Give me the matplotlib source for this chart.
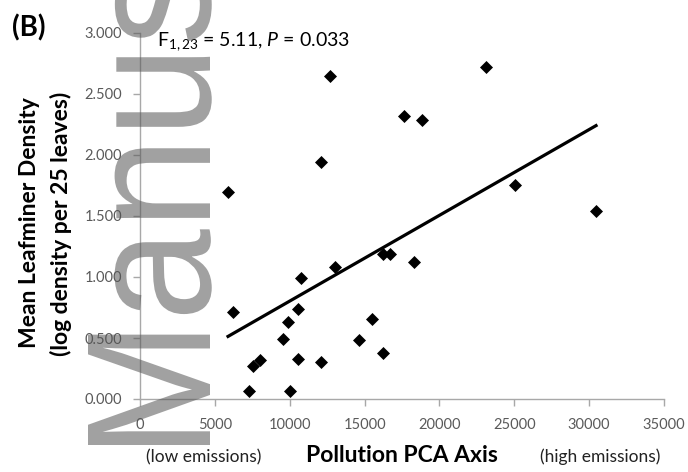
import matplotlib
matplotlib.use("Agg")
import matplotlib.pyplot as plt
import numpy as np
from matplotlib.textpath import TextPath
from matplotlib.patches import PathPatch
from matplotlib.font_manager import FontProperties
from matplotlib.transforms import Affine2D, IdentityTransform

# ---- data ----
pollution_pca = [5880, 12690, 12090, 23110, 17640, 18840, 25050, 30460,
                 6210, 13030, 10750, 10540, 9870, 9530, 7560, 8020,
                 10540, 12070, 7290, 10020, 16250, 16700, 18300, 15500,
                 14630, 16230]
leafminer_density = [1.70, 2.65, 1.94, 2.72, 2.32, 2.29, 1.75, 1.54,
                     0.713, 1.08, 0.99, 0.74, 0.63, 0.49, 0.27, 0.32,
                     0.33, 0.30, 0.066, 0.066, 1.19, 1.19, 1.12, 0.655,
                     0.48, 0.377]
trend_slope = 7.03e-5
trend_intercept = 0.0996
x_ticks = [0, 5000, 10000, 15000, 20000, 25000, 30000, 35000]
y_ticks = [0.0, 0.5, 1.0, 1.5, 2.0, 2.5, 3.0]

plt.rcParams['font.family'] = ['Lato', 'DejaVu Sans']
plt.rcParams['mathtext.fontset'] = 'custom'
plt.rcParams['mathtext.rm'] = 'Lato'
plt.rcParams['mathtext.it'] = 'Lato:italic'

W, H = 688, 472
fig = plt.figure(figsize=(W / 100, H / 100), dpi=100)
ax = fig.add_axes([140 / W, 1 - 399 / H, 524 / W, 366 / H])

ax.scatter(pollution_pca, leafminer_density, marker='D', s=44,
           color='black', zorder=3, linewidths=0)
tx = np.array([min(pollution_pca), max(pollution_pca)])
ax.plot(tx, trend_intercept + trend_slope * tx, color='black', lw=2.3, zorder=2)

ax.set_xlim(0, 35000)
ax.set_ylim(0, 3.0)
ax.set_xticks(x_ticks)
ax.set_xticklabels([str(t) for t in x_ticks])
ax.set_yticks(y_ticks)
ax.set_yticklabels([f"{t:.3f}" for t in y_ticks])

gray = '#a8a8a8'
for s in ['top', 'right']:
    ax.spines[s].set_visible(False)
for s in ['left', 'bottom']:
    ax.spines[s].set_color(gray)
    ax.spines[s].set_linewidth(1)
ax.tick_params(axis='both', colors=gray, length=5, width=1, labelsize=10.5,
               labelcolor='#5a5a5a')
ax.tick_params(axis='y', pad=8)
ax.tick_params(axis='x', pad=9)

# y label
fig.text(30 / W, 1 - 223 / H, "Mean Leafminer Density", rotation=90,
         ha='center', va='center', fontsize=16.5, fontweight='bold')
fig.text(61 / W, 1 - 224 / H, "(log density per 25 leaves)", rotation=90,
         ha='center', va='center', fontsize=16.5, fontweight='bold')

# x labels
fig.text(402 / W, 1 - 455 / H, "Pollution PCA Axis", ha='center', va='center',
         fontsize=16.5, fontweight='bold')
fig.text(204 / W, 1 - 457 / H, "(low emissions)", ha='center', va='center',
         fontsize=12.5, color='#222222')
fig.text(600 / W, 1 - 457 / H, "(high emissions)", ha='center', va='center',
         fontsize=12.5, color='#222222')

# panel label
fig.text(12 / W, 1 - 28 / H, "(B)", ha='left', va='center', fontsize=20,
         fontweight='bold')

# statistics
fig.text(157 / W, 1 - 46 / H, r"F$_{1,23}$ = 5.11, $P$ = 0.033",
         ha='left', va='baseline', fontsize=14)

# watermark (rotated, semi-transparent)
fp = FontProperties(family='Liberation Sans')
wm_path = TextPath((0, 0), "Manuscript", size=165, prop=fp)
m_ext = TextPath((0, 0), "M", size=165, prop=fp).get_extents()
k = (210 - 88) / m_ext.y1
tr = (Affine2D().translate(-m_ext.x0, 0).scale(1, k).rotate_deg(90)
      .translate(210, H - 445))
wm = PathPatch(tr.transform_path(wm_path), transform=IdentityTransform(),
               facecolor='#555555', edgecolor='none', alpha=0.55, zorder=10)
fig.add_artist(wm)

fig.savefig("out.png", dpi=100)
